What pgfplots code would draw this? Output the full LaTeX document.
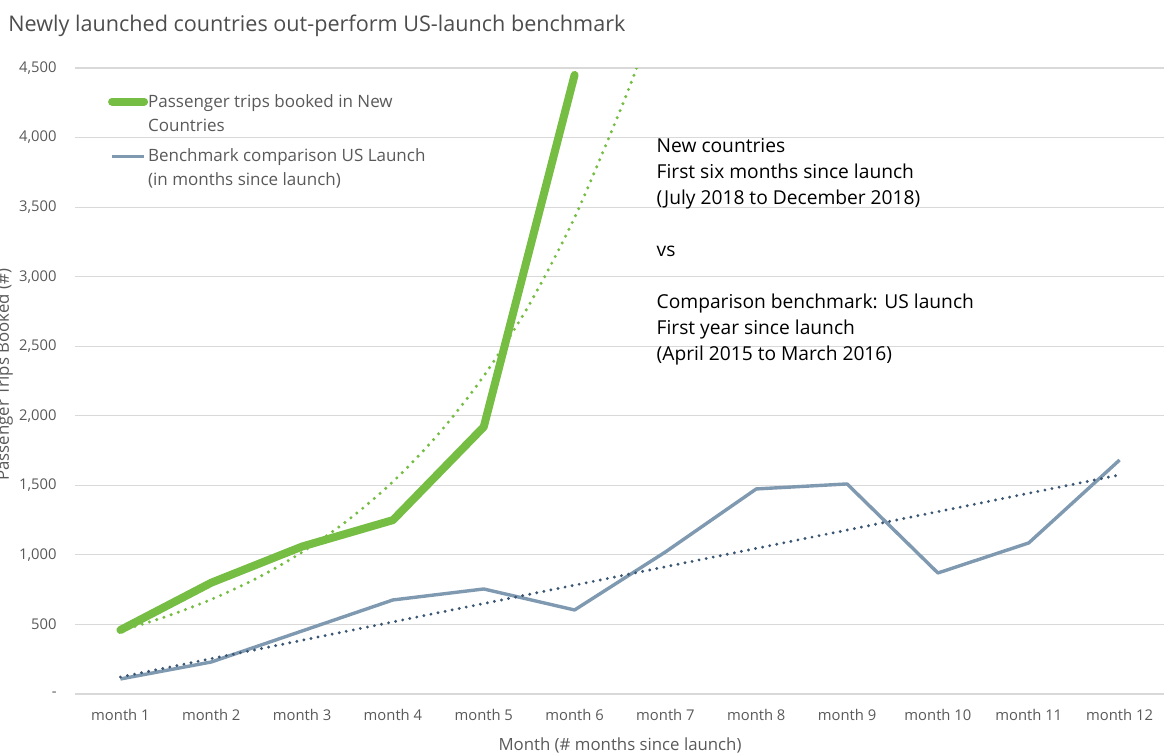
\documentclass[border=0pt]{standalone}
\usepackage{pgfplots}
\pgfplotsset{compat=1.18}
\usepackage{fontspec}
\setmainfont{Open Sans}
\definecolor{cgreen}{HTML}{76BD43}
\definecolor{cblue}{HTML}{7F99B1}
\definecolor{cnavy}{HTML}{3A5673}
\definecolor{cgrid}{HTML}{D9D9D9}
\definecolor{ctext}{HTML}{595959}
\definecolor{ctitle}{HTML}{4D4D4D}
\begin{document}
\begin{tikzpicture}
\begin{axis}[
  scale only axis, width=545pt, height=313pt,
  xmin=0.5, xmax=12.5, ymin=0, ymax=4500,
  axis line style={draw=none},
  major tick length=0pt,
  ymajorgrids, grid style={cgrid, line width=0.6pt},
  xtick={1,2,3,4,5,6,7,8,9,10,11,12},
  xticklabels={month 1,month 2,month 3,month 4,month 5,month 6,month 7,month 8,month 9,month 10,month 11,month 12},
  ytick={0,500,1000,1500,2000,2500,3000,3500,4000,4500},
  yticklabels={-,500,{1,000},{1,500},{2,000},{2,500},{3,000},{3,500},{4,000},{4,500}},
  xticklabel style={font=\fontsize{7.4}{9}\selectfont, text=ctext, anchor=base, yshift=-13pt, inner sep=0pt},
  yticklabel style={font=\fontsize{7.4}{9}\selectfont, text=ctext, anchor=east, xshift=-9pt, inner sep=0pt},
  xlabel={Month (\# months since launch)},
  xlabel style={at={(axis description cs:0.5,0)}, anchor=base, yshift=-28pt, font=\fontsize{8.4}{10}\selectfont, text=ctext, inner sep=0pt},
  ylabel={Passenger Trips Booked (\#)},
  ylabel style={at={(axis description cs:-0.0606,0.51)}, anchor=base, font=\fontsize{8.4}{10}\selectfont, text=ctext, inner sep=0pt},
  reverse legend,
  legend style={draw=none, fill=none, inner sep=0pt, row sep=17.5pt, column sep=0pt,
    at={(rel axis cs:0.03,0.965)}, anchor=north west,
    font=\fontsize{8.5}{12}\selectfont, text=ctext,
    cells={anchor=base west}, nodes={inner sep=0pt}},
  legend image code/.code={\draw[#1] (1pt,2.8pt) -- (17pt,2.8pt);},
]
\addplot[cblue, line width=1.7pt, line join=round] coordinates {
  (1,108) (2,230) (3,453) (4,676) (5,755) (6,604) (7,1021) (8,1474) (9,1510) (10,870) (11,1086) (12,1682)};
\addlegendentry{\begin{tabular}[t]{@{}l@{}}Benchmark comparison US Launch\\(in months since launch)\end{tabular}}
\addplot[cnavy, line width=1.6pt, dash pattern=on 0pt off 3.6pt, line cap=round, forget plot] coordinates {
  (1,122) (12,1575)};
\addplot[cgreen, line width=1.7pt, dash pattern=on 0pt off 3.8pt, line cap=round, smooth, forget plot] coordinates {
  (1,454) (1.5,556) (2,680) (2.5,832) (3,1019) (3.5,1247) (4,1526) (4.5,1868) (5,2286) (5.5,2798) (6,3425) (6.5,4192) (6.7,4530)};
\addplot[cgreen, line width=4pt, line cap=round, line join=round] coordinates {
  (1,460) (2,800) (3,1060) (4,1250) (5,1920) (6,4450)};
\addlegendentry{\begin{tabular}[t]{@{}l@{}}Passenger trips booked in New\\Countries\end{tabular}}
\node[anchor=north west, align=left, inner sep=0pt, font=\fontsize{9.6}{13}\selectfont, text=black]
  at (axis cs:6.9,4000) {New countries\\First six months since launch\\(July 2018 to December 2018)\\[13pt]vs\\[13pt]Comparison benchmark: US launch\\First year since launch\\(April 2015 to March 2016)};
\end{axis}
\node[anchor=base west, inner sep=0pt, font=\fontsize{10.8}{12}\selectfont, text=ctitle] at (-33.5pt,331pt) {Newly launched countries out-perform US-launch benchmark};
\pgfresetboundingbox
\path[use as bounding box] (-37.5pt,-31pt) rectangle (544.5pt,347pt);
\end{tikzpicture}
\end{document}
